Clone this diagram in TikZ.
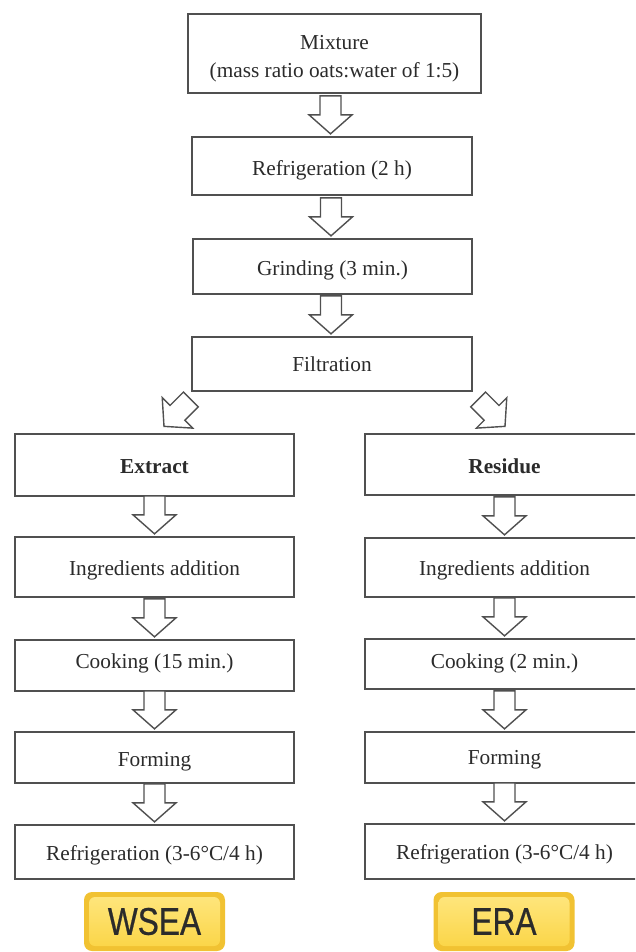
\documentclass[tikz,border=0pt]{standalone}
\usepackage{fontspec}
\setmainfont{Liberation Serif}
\newfontfamily\badgefont[FakeStretch=0.82,FakeBold=0.6]{Liberation Sans}
\usetikzlibrary{calc}
\definecolor{boxline}{HTML}{505050}
\definecolor{txt}{HTML}{2B2B2B}
\definecolor{goldedge}{HTML}{F1C232}
\definecolor{goldlight}{HTML}{FFE780}
\definecolor{goldmid}{HTML}{FAD444}
\begin{document}
\begin{tikzpicture}[x=1pt,y=-1pt,
  box/.style={draw=boxline, line width=1.3pt, fill=white, inner sep=0pt,
    font=\fontsize{21.3}{28}\selectfont, text=txt, align=center,
    text height=17pt, text depth=0pt},
  blockarrow/.pic={\draw[boxline, line width=1.4pt, line join=miter, fill=white]
    (0,0) -- (21.5,-19) -- (10.5,-19) -- (10.5,-38) -- (-10.5,-38)
    -- (-10.5,-19) -- (-21.5,-19) -- cycle;},
  badge/.style={rounded corners=8pt, fill=goldedge, minimum width=141,
    minimum height=59, inner sep=0pt, text=txt,
    font=\badgefont\fontsize{38.6}{40}\selectfont,
    path picture={\shade[top color=goldlight, bottom color=goldmid, rounded corners=6pt]
      ($(path picture bounding box.south west)+(5,-5)$) rectangle
      ($(path picture bounding box.north east)+(-5,5)$);}}
]
\useasboundingbox (0,0) rectangle (635,952);
\clip (0,0) rectangle (635,952);
\fill[white] (0,0) rectangle (635,952);

% central column
\node[draw=boxline, line width=1.3pt, fill=white, inner sep=0pt, text=txt,
  font=\fontsize{21.3}{28}\selectfont, minimum width=293, minimum height=79] (mix) at (334.5,53.5)
  {\raisebox{-9.3pt}[0pt][0pt]{\begin{tabular}{@{}c@{}}Mixture\\(mass ratio oats:water of 1:5)\end{tabular}}};
\node[box, minimum width=280, minimum height=58, text height=19pt] (ref1) at (332,166) {Refrigeration (2 h)};
\node[box, minimum width=279, minimum height=55, text height=18pt] (grind) at (332.5,266.5) {Grinding (3 min.)};
\node[box, minimum width=280, minimum height=54, text height=15pt] (filt) at (332,364) {Filtration};

% left column
\node[box, minimum width=279, minimum height=62] (extract) at (154.5,465) {\bfseries Extract};
\node[box, minimum width=279, minimum height=60] (ingrL) at (154.5,567) {Ingredients addition};
\node[box, minimum width=279, minimum height=51, text height=6pt] (cookL) at (154.5,665.5) {Cooking (15 min.)};
\node[box, minimum width=279, minimum height=51, text height=18pt] (formL) at (154.5,757.5) {Forming};
\node[box, minimum width=279, minimum height=54] (refL) at (154.5,852) {Refrigeration (3-6°C/4 h)};

% right column
\node[box, minimum width=279, minimum height=61, text height=18pt] (residue) at (504.5,464.5) {\bfseries Residue};
\node[box, minimum width=279, minimum height=59, text height=16pt] (ingrR) at (504.5,567.5) {Ingredients addition};
\node[box, minimum width=279, minimum height=50, text height=9pt] (cookR) at (504.5,664) {Cooking (2 min.)};
\node[box, minimum width=279, minimum height=51, text height=14pt] (formR) at (504.5,757.5) {Forming};
\node[box, minimum width=279, minimum height=55, text height=16pt] (refR) at (504.5,851.5) {Refrigeration (3-6°C/4 h)};

% arrows
\pic at ($(ref1.north)+(-1.5,-2.5)$) {blockarrow};
\pic at ($(grind.north)+(-1.5,-2.5)$) {blockarrow};
\pic at ($(filt.north)+(-1,-2.5)$) {blockarrow};
\pic[rotate=-45] at ($(extract.north)+(9.5,-7)$) {blockarrow};
\pic[rotate=45] at ($(residue.north)+(0.5,-7)$) {blockarrow};
\foreach \n in {ingrL,cookL,formL,refL,ingrR,cookR,formR,refR}
  \pic at ($(\n.north)+(0,-2.5)$) {blockarrow};

% badges
\node[badge] (wsea) at (154.5,921.5) {\raisebox{-4pt}{WSEA}};
\node[badge] (era) at (504,921.5) {\raisebox{-4pt}{ERA}};
\end{tikzpicture}
\end{document}
